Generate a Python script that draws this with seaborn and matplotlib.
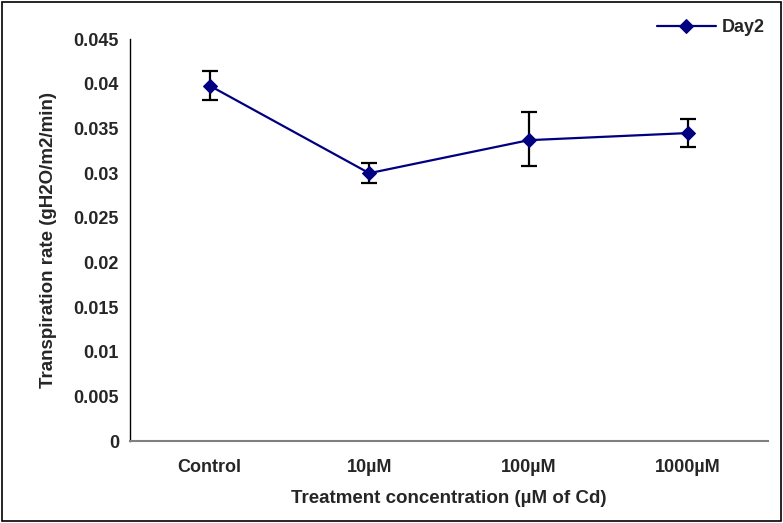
import seaborn as sns
import pandas as pd
import matplotlib.pyplot as plt
from matplotlib.patches import Rectangle

# data
treatments = ["Control", "10µM", "100µM", "1000µM"]
day2_rate = [0.0398, 0.0300, 0.0337, 0.0345]
err_low = [0.0016, 0.0011, 0.0029, 0.0016]
err_high = [0.0016, 0.0011, 0.0031, 0.0016]
y_ticks = [0, 0.005, 0.01, 0.015, 0.02, 0.025, 0.03, 0.035, 0.04, 0.045]
y_tick_labels = ["0", "0.005", "0.01", "0.015", "0.02", "0.025", "0.03", "0.035", "0.04", "0.045"]

df = pd.DataFrame({"Treatment": treatments, "Rate": day2_rate})
df["pos"] = range(len(treatments))

sns.set_style("white")
plt.rcParams["font.family"] = ["Liberation Sans", "DejaVu Sans"]
plt.rcParams["font.weight"] = "bold"

fig = plt.figure(figsize=(7.83, 5.23), dpi=100)
ax = fig.add_axes([130 / 783, 1 - 441 / 523, (768 - 130) / 783, (441 - 39.3) / 523])

ax.errorbar(df["pos"], df["Rate"], yerr=[err_low, err_high], fmt="none",
            ecolor="black", elinewidth=1.6, capsize=6, capthick=1.6, zorder=2)
sns.lineplot(x="pos", y="Rate", data=df, ax=ax, color="#000080", linewidth=1.6,
             marker="D", markersize=7.5, markeredgecolor="#000080",
             label="Day2", zorder=3)

ax.set_xlim(-0.5, 3.5)
ax.set_ylim(0, 0.045)
ax.set_yticks(y_ticks)
ax.set_yticklabels(y_tick_labels, fontsize=13, fontweight="bold")
ax.set_xticks([0, 1, 2, 3])
ax.set_xticklabels(treatments, fontsize=13, fontweight="bold")
ax.set_xticks([-0.5, 0.5, 1.5, 2.5, 3.5], minor=True)
ax.tick_params(axis="x", which="major", length=0, pad=13)
ax.tick_params(axis="x", which="minor", length=5, width=1, color="#808080", direction="out")
ax.tick_params(axis="y", length=5, width=1, color="black", direction="out", pad=3)

for s in ["top", "right"]:
    ax.spines[s].set_visible(False)
ax.spines["left"].set_color("black")
ax.spines["left"].set_linewidth(1)
ax.spines["bottom"].set_color("#808080")
ax.spines["bottom"].set_linewidth(1.5)

ax.set_xlabel("Treatment concentration (µM of Cd)", fontsize=13.5, fontweight="bold", labelpad=10)
ax.set_ylabel("Transpiration rate (gH2O/m2/min)", fontsize=13.5, fontweight="bold", labelpad=12)

leg = ax.legend(loc="upper right", bbox_to_anchor=(1.02, 1.09), frameon=False,
                fontsize=13, handlelength=3.3, handletextpad=0.3)
for t in leg.get_texts():
    t.set_fontweight("bold")

fig.patches.append(Rectangle((0.003, 0.003), 0.994, 0.994, transform=fig.transFigure,
                             fill=False, edgecolor="black", linewidth=1.2))

fig.savefig("out.png", dpi=100)
